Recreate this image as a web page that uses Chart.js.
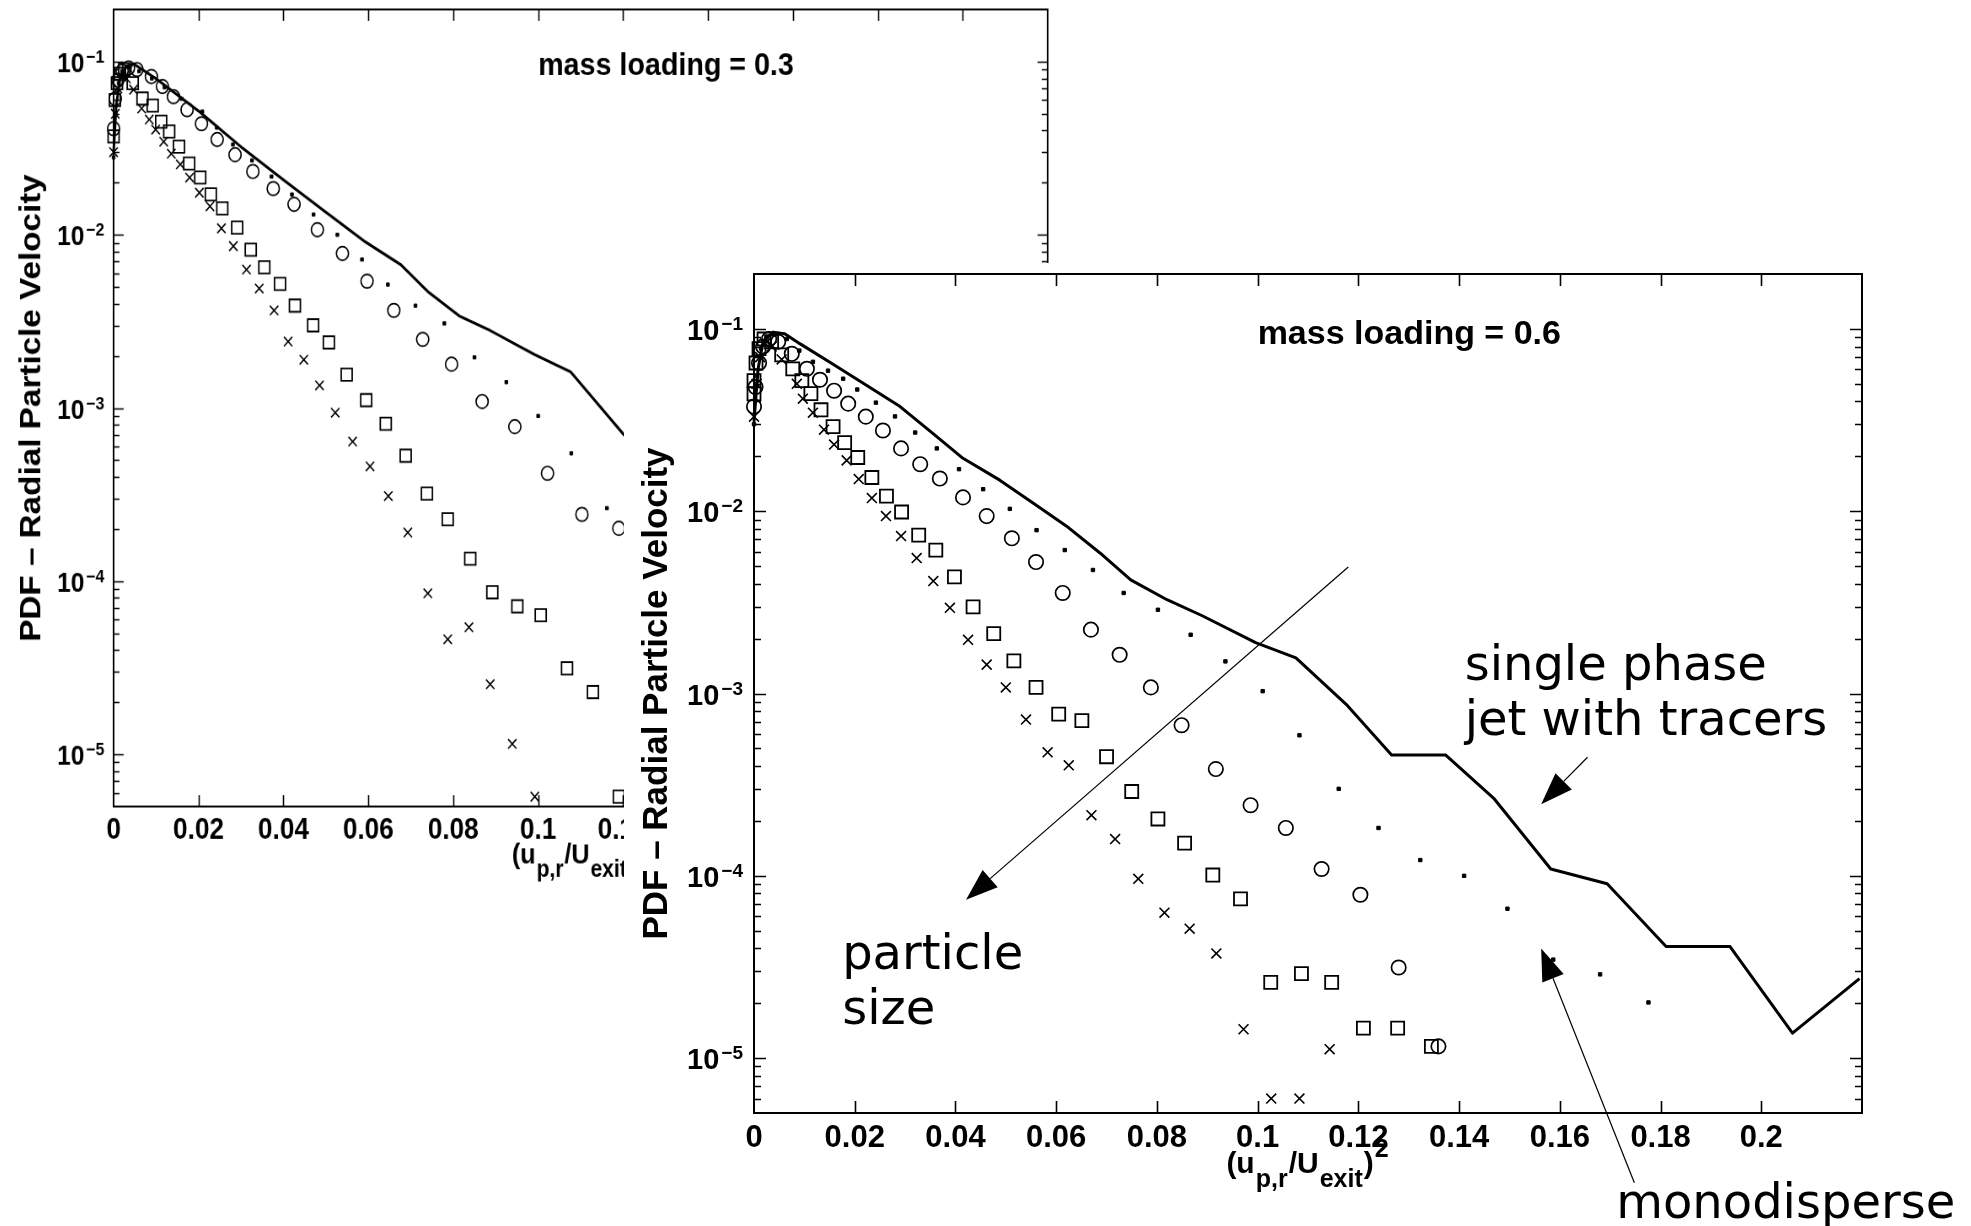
<!DOCTYPE html>
<html lang="en">
<head>
<meta charset="utf-8">
<title>PDF – Radial Particle Velocity</title>
<script src="https://cdn.jsdelivr.net/npm/chart.js@4.4.1/dist/chart.umd.min.js"></script>
<style>
  html, body { margin: 0; padding: 0; background: #fff; }
  body { width: 1971px; height: 1226px; position: relative; overflow: hidden; }
  .painel { position: absolute; width: 1347px; height: 963px; }
  /* a figura de 0.3 fica atrás, achatada na horizontal */
  #painel03 { left: 4.4px; top: -1px; transform: scale(0.843, 0.95); transform-origin: 0 0; }
  #painel06 { left: 624px; top: 263px; background: #fff; }
</style>
</head>
<body>
<div class="painel" id="painel03"><canvas id="grafico03" width="1347" height="963"></canvas></div>
<div class="painel" id="painel06"><canvas id="grafico06" width="1347" height="963"></canvas></div>
<script>
// --- DADOS: carga mássica 0.3 ---
const ml03TracadorX = [0, 0.0006, 0.0015, 0.003, 0.0047, 0.0099, 0.0204, 0.0304, 0.0404, 0.0498, 0.0593, 0.0677, 0.074, 0.0814, 0.0887, 0.0992, 0.1076, 0.12, 0.13];
const ml03TracadorY = [0.03, 0.055, 0.08, 0.094, 0.097, 0.08, 0.051, 0.0316, 0.0204, 0.0136, 0.0091, 0.0067, 0.0047, 0.0034, 0.0028, 0.00203, 0.00162, 0.00071, 0.0004];

const ml03MonoX = [0, 0.0005, 0.0012, 0.002, 0.0035, 0.006, 0.009, 0.012, 0.016, 0.0209, 0.0243, 0.0281, 0.0326, 0.0372, 0.042, 0.0471, 0.0527, 0.0585, 0.0646, 0.0711, 0.0779, 0.085, 0.0925, 0.1, 0.1078, 0.1162];
const ml03MonoY = [0.028, 0.05, 0.075, 0.088, 0.093, 0.088, 0.08, 0.071, 0.061, 0.0514, 0.0416, 0.0332, 0.0269, 0.0217, 0.0171, 0.0131, 0.01, 0.0072, 0.00516, 0.0039, 0.00308, 0.00196, 0.00141, 0.0009, 0.000547, 0.000264];

const ml03CirculoX = [0, 0.0004, 0.001, 0.002, 0.0035, 0.0055, 0.0089, 0.0115, 0.0141, 0.0173, 0.0207, 0.0244, 0.0286, 0.0328, 0.0376, 0.0425, 0.048, 0.0539, 0.0597, 0.066, 0.0728, 0.0796, 0.0868, 0.0945, 0.1022, 0.1103, 0.119];
const ml03CirculoY = [0.041, 0.061, 0.078, 0.088, 0.092, 0.09, 0.082, 0.0718, 0.0628, 0.0528, 0.0438, 0.0355, 0.029, 0.0232, 0.0185, 0.015, 0.0107, 0.0078, 0.0054, 0.00366, 0.00249, 0.00179, 0.00109, 0.00078, 0.00042, 0.000243, 0.000202];

const ml03QuadradoX = [0, 0.0003, 0.0008, 0.0015, 0.0025, 0.0045, 0.0068, 0.0092, 0.0112, 0.0131, 0.0154, 0.0178, 0.0204, 0.0229, 0.0256, 0.0291, 0.0323, 0.0355, 0.0392, 0.0427, 0.047, 0.0507, 0.0549, 0.0595, 0.0641, 0.0688, 0.0738, 0.0787, 0.084, 0.0892, 0.0951, 0.1006, 0.1068, 0.1129, 0.119];
const ml03QuadradoY = [0.037, 0.06, 0.075, 0.085, 0.09, 0.075, 0.0612, 0.0557, 0.045, 0.0395, 0.0323, 0.0258, 0.0214, 0.0171, 0.0142, 0.011, 0.0082, 0.0065, 0.0052, 0.0039, 0.003, 0.00239, 0.00156, 0.00111, 0.00081, 0.00053, 0.00032, 0.000228, 0.000135, 0.0000863, 0.0000716, 0.0000636, 0.0000314, 0.0000229, 0.0000057];

const ml03XisX = [0, 0.0004, 0.001, 0.002, 0.003, 0.0047, 0.0066, 0.0084, 0.0099, 0.0118, 0.0136, 0.0157, 0.0179, 0.0202, 0.0227, 0.0254, 0.0282, 0.0313, 0.0343, 0.0378, 0.0411, 0.0448, 0.0485, 0.0522, 0.0563, 0.0604, 0.0647, 0.0693, 0.074, 0.0787, 0.0837, 0.0887, 0.0939, 0.0992];
const ml03XisY = [0.03, 0.05, 0.07, 0.082, 0.08, 0.0689, 0.0536, 0.0463, 0.0405, 0.0345, 0.0294, 0.0255, 0.0214, 0.0175, 0.0146, 0.0109, 0.0086, 0.0063, 0.0049, 0.00366, 0.00242, 0.0019, 0.00135, 0.00094, 0.00064, 0.00046, 0.00031, 0.000191, 0.0000851, 0.0000462, 0.0000542, 0.0000254, 0.0000115, 0.0000057];

// --- DADOS: carga mássica 0.6 ---
const ml06TracadorX = [0, 0.0008, 0.0018, 0.0038, 0.0061, 0.0091, 0.0157, 0.0224, 0.029, 0.0355, 0.0415, 0.0488, 0.0554, 0.062, 0.0687, 0.0748, 0.082, 0.089, 0.0996, 0.1076, 0.1178, 0.1266, 0.1373, 0.147, 0.1582, 0.1694, 0.1811, 0.1938, 0.2062, 0.2195];
const ml06TracadorY = [0.031, 0.06, 0.085, 0.096, 0.094, 0.083, 0.064, 0.0489, 0.0375, 0.0267, 0.0195, 0.0148, 0.0111, 0.0083, 0.0059, 0.0042, 0.00327, 0.00267, 0.0019, 0.00157, 0.00086, 0.00046, 0.00046, 0.000264, 0.000109, 0.0000904, 0.0000409, 0.0000409, 0.0000137, 0.0000273];

const ml06MonoX = [0, 0.0006, 0.0014, 0.0025, 0.004, 0.0065, 0.009, 0.0117, 0.0147, 0.0177, 0.0205, 0.0242, 0.028, 0.032, 0.0363, 0.0407, 0.0455, 0.0508, 0.0561, 0.0617, 0.0673, 0.0734, 0.0802, 0.0867, 0.0936, 0.101, 0.1083, 0.1161, 0.124, 0.1323, 0.141, 0.1496, 0.1587, 0.168, 0.1776];
const ml06MonoY = [0.03, 0.055, 0.078, 0.09, 0.093, 0.088, 0.076, 0.066, 0.059, 0.0533, 0.0465, 0.0394, 0.0331, 0.027, 0.0221, 0.017, 0.0132, 0.0103, 0.00787, 0.00612, 0.00476, 0.00356, 0.00288, 0.0021, 0.0015, 0.00103, 0.00059, 0.0003, 0.000183, 0.000122, 0.0001, 0.000066, 0.0000347, 0.0000288, 0.0000202];

const ml06CirculoX = [0, 0.0003, 0.001, 0.0018, 0.003, 0.0048, 0.0075, 0.0105, 0.0131, 0.0159, 0.0187, 0.0222, 0.0256, 0.0292, 0.033, 0.0369, 0.0415, 0.0462, 0.0512, 0.056, 0.0613, 0.0669, 0.0726, 0.0788, 0.0849, 0.0917, 0.0986, 0.1056, 0.1127, 0.1204, 0.128, 0.1359];
const ml06CirculoY = [0.0375, 0.048, 0.065, 0.08, 0.088, 0.085, 0.073, 0.0604, 0.0526, 0.0458, 0.0389, 0.033, 0.0277, 0.0221, 0.0181, 0.0151, 0.0119, 0.0094, 0.0071, 0.00526, 0.00356, 0.00224, 0.00163, 0.00108, 0.00067, 0.000385, 0.000244, 0.000183, 0.000109, 0.0000787, 0.0000314, 0.0000116];

const ml06QuadradoX = [0, 0, 0.0004, 0.001, 0.002, 0.0035, 0.0055, 0.0077, 0.0095, 0.0113, 0.0133, 0.0157, 0.018, 0.0206, 0.0234, 0.0263, 0.0293, 0.0327, 0.0361, 0.0398, 0.0435, 0.0476, 0.0516, 0.056, 0.0605, 0.0651, 0.07, 0.075, 0.0802, 0.0855, 0.0911, 0.0966, 0.1026, 0.1087, 0.1147, 0.121, 0.1278, 0.1345];
const ml06QuadradoY = [0.044, 0.052, 0.065, 0.078, 0.088, 0.085, 0.072, 0.0604, 0.052, 0.0441, 0.036, 0.0291, 0.0238, 0.0197, 0.0153, 0.0121, 0.0099, 0.0074, 0.00612, 0.00436, 0.00299, 0.00213, 0.00151, 0.00108, 0.00077, 0.00071, 0.00045, 0.00029, 0.000205, 0.000151, 0.000101, 0.0000748, 0.000026, 0.0000291, 0.000026, 0.0000146, 0.0000146, 0.0000116];

const ml06XisX = [0, 0.0005, 0.0012, 0.0022, 0.0035, 0.0055, 0.0085, 0.0097, 0.0117, 0.0139, 0.0159, 0.0184, 0.0208, 0.0234, 0.0262, 0.0292, 0.0323, 0.0356, 0.0389, 0.0425, 0.0462, 0.05, 0.054, 0.0583, 0.0625, 0.067, 0.0717, 0.0763, 0.0815, 0.0865, 0.0918, 0.0972, 0.1027, 0.1083, 0.1143];
const ml06XisY = [0.033, 0.05, 0.07, 0.083, 0.08, 0.068, 0.05, 0.0414, 0.0347, 0.028, 0.0232, 0.019, 0.015, 0.0118, 0.0094, 0.0073, 0.00553, 0.00414, 0.00295, 0.00197, 0.00144, 0.00108, 0.00072, 0.000476, 0.000404, 0.000215, 0.000159, 0.0000963, 0.0000628, 0.0000513, 0.0000375, 0.0000144, 0.000006, 0.000006, 0.0000112];

// eixos (iguais nas duas figuras)
const eixoXMin = 0, eixoXMax = 0.22, eixoXPasso = 0.02;
const eixoYMin = 5e-6, eixoYMax = 0.2;

// anotações da figura de 0.6, em coordenadas de dados
const notasMl06 = [
  { linhas: ['particle', 'size'], em: [0.0175, 3.1e-5] },
  { linhas: ['single phase', 'jet with tracers'], em: [0.1411, 1.18e-3] },
  { linhas: ['monodisperse'], em: [0.1712, 1.32e-6] }
];
const setasMl06 = [
  { de: [0.118, 4.94e-3], ate: [0.0421, 7.4e-5] },
  { de: [0.1655, 4.47e-4], ate: [0.1563, 2.47e-4] },
  { de: [0.1748, 2.07e-6], ate: [0.1563, 3.99e-5] }
];

const FONTE_EIXOS = '"Liberation Sans", Arial, Helvetica, sans-serif';
const FONTE_NOTAS = '"DejaVu Sans", "Noto Sans", sans-serif';

const ESTILOS = {
  tracador: { showLine: true, pointRadius: 0, borderColor: '#000', borderWidth: 3, tension: 0, borderJoinStyle: 'round' },
  mono: { pointStyle: 'rect', pointRadius: 2.4, pointBorderWidth: 1, pointBorderColor: '#000', pointBackgroundColor: '#000' },
  circulo: { pointStyle: 'circle', pointRadius: 7.2, pointBorderWidth: 1.7, pointBorderColor: '#000', pointBackgroundColor: 'rgba(0,0,0,0)' },
  quadrado: { pointStyle: 'rect', pointRadius: 9.2, pointBorderWidth: 1.8, pointBorderColor: '#000', pointBackgroundColor: 'rgba(0,0,0,0)' },
  xis: { pointStyle: 'crossRot', pointRadius: 7, pointBorderWidth: 1.6, pointBorderColor: '#000' }
};

// partes do título do eixo x: (u_{p,r}/U_{exit})^2
const TITULO_X = [
  { t: '(u', tam: 30, dy: 0 },
  { t: 'p,r', tam: 25, dy: 14 },
  { t: '/U', tam: 30, dy: 0 },
  { t: 'exit', tam: 25, dy: 14 },
  { t: ')', tam: 30, dy: 0 },
  { t: '2', tam: 25, dy: -16 }
];

function desenharSeta(ctx, x0, y0, x1, y1) {
  const ang = Math.atan2(y1 - y0, x1 - x0);
  const comp = 32, meia = 11.5;
  const bx = x1 - comp * Math.cos(ang);
  const by = y1 - comp * Math.sin(ang);
  ctx.beginPath();
  ctx.moveTo(x0, y0);
  ctx.lineTo(bx, by);
  ctx.stroke();
  ctx.beginPath();
  ctx.moveTo(x1, y1);
  ctx.lineTo(bx + meia * Math.sin(ang), by - meia * Math.cos(ang));
  ctx.lineTo(bx - meia * Math.sin(ang), by + meia * Math.cos(ang));
  ctx.closePath();
  ctx.fill();
}

/**
 * Moldura fechada com marcas para dentro, rótulos 10^n, título do eixo x com índices e anotações.
 */
const molduraPlugin = {
  id: 'moldura',
  afterDraw(chart, args, opts) {
    const { ctx, chartArea: a, scales: { x, y } } = chart;
    ctx.save();
    ctx.strokeStyle = '#000';
    ctx.fillStyle = '#000';

    ctx.lineWidth = 2;
    ctx.strokeRect(a.left, a.top, a.right - a.left, a.bottom - a.top);

    ctx.lineWidth = 1.6;
    ctx.beginPath();
    x.ticks.forEach(t => {
      if (t.value <= x.min + 1e-9 || t.value >= x.max - 1e-9) return;
      const px = Math.round(x.getPixelForValue(t.value)) + 0.5;
      ctx.moveTo(px, a.bottom); ctx.lineTo(px, a.bottom - 12);
      ctx.moveTo(px, a.top); ctx.lineTo(px, a.top + 12);
    });
    const eMin = Math.floor(Math.log10(y.min));
    const eMax = Math.ceil(Math.log10(y.max));
    for (let e = eMin; e < eMax; e++) {
      for (let m = 1; m < 10; m++) {
        const v = m * Math.pow(10, e);
        if (v <= y.min * 1.0001 || v >= y.max * 0.9999) continue;
        const py = Math.round(y.getPixelForValue(v)) + 0.5;
        const len = m === 1 ? 12 : 7;
        ctx.moveTo(a.left, py); ctx.lineTo(a.left + len, py);
        ctx.moveTo(a.right, py); ctx.lineTo(a.right - len, py);
      }
    }
    ctx.stroke();

    // rótulos das décadas: "10" com expoente
    ctx.textBaseline = 'alphabetic';
    for (let e = Math.ceil(Math.log10(y.min)); e <= Math.floor(Math.log10(y.max)); e++) {
      const py = y.getPixelForValue(Math.pow(10, e));
      const expoente = String(e).replace('-', '\u2212');
      ctx.font = 'bold 19px ' + FONTE_EIXOS;
      const we = ctx.measureText(expoente).width;
      const xd = a.left - 11;
      ctx.textAlign = 'right';
      ctx.fillText(expoente, xd, py + 1);
      ctx.font = 'bold 29px ' + FONTE_EIXOS;
      ctx.fillText('10', xd - we - 2, py + 11);
    }

    // título do eixo x
    ctx.textAlign = 'left';
    let largura = 0;
    TITULO_X.forEach(p => {
      ctx.font = 'bold ' + p.tam + 'px ' + FONTE_EIXOS;
      largura += ctx.measureText(p.t).width + 1;
    });
    let cx = (a.left + a.right) / 2 - largura / 2;
    const base = a.bottom + 60;
    TITULO_X.forEach(p => {
      ctx.font = 'bold ' + p.tam + 'px ' + FONTE_EIXOS;
      ctx.fillText(p.t, cx, base + p.dy);
      cx += ctx.measureText(p.t).width + 1;
    });

    // rótulo da carga mássica
    if (opts.rotulo) {
      ctx.font = 'bold 34px ' + FONTE_EIXOS;
      ctx.fillText(opts.rotulo.texto, x.getPixelForValue(opts.rotulo.em[0]), y.getPixelForValue(opts.rotulo.em[1]));
    }

    // setas e textos
    ctx.lineWidth = 1.2;
    (opts.setas || []).forEach(s => {
      desenharSeta(ctx,
        x.getPixelForValue(s.de[0]), y.getPixelForValue(s.de[1]),
        x.getPixelForValue(s.ate[0]), y.getPixelForValue(s.ate[1]));
    });
    ctx.font = '48px ' + FONTE_NOTAS;
    (opts.notas || []).forEach(n => {
      const nx = x.getPixelForValue(n.em[0]);
      const ny = y.getPixelForValue(n.em[1]);
      n.linhas.forEach((linha, i) => ctx.fillText(linha, nx, ny + i * 55));
    });
    ctx.restore();
  }
};

function montarSeries(lista) {
  return lista.map(s => Object.assign({
    label: s.nome,
    data: s.xs.map((x, i) => ({ x, y: s.ys[i] })),
    clip: false
  }, ESTILOS[s.tipo]));
}

/**
 * Monta uma figura PDF x (u/U)^2 com eixo y logarítmico.
 */
function montarGrafico(canvasId, series, extras) {
  const ctx = document.getElementById(canvasId).getContext('2d');
  return new Chart(ctx, {
    type: 'scatter',
    data: { datasets: montarSeries(series) },
    options: {
      responsive: false,
      animation: false,
      devicePixelRatio: 1,
      events: [],
      layout: { padding: { left: 0, top: 9, right: 109, bottom: 0 } },
      plugins: {
        legend: { display: false },
        tooltip: { enabled: false },
        moldura: extras
      },
      scales: {
        x: {
          type: 'linear',
          min: eixoXMin,
          max: eixoXMax,
          grid: { display: false, drawTicks: false },
          border: { display: false },
          ticks: {
            stepSize: eixoXPasso,
            autoSkip: false,
            maxRotation: 0,
            padding: 7,
            color: '#000',
            font: { family: FONTE_EIXOS, size: 31, weight: 'bold' },
            callback: v => (v > eixoXMax - eixoXPasso / 2 ? null : String(Math.round(v * 100) / 100))
          },
          afterFit: s => { s.height = 113; }
        },
        y: {
          type: 'logarithmic',
          min: eixoYMin,
          max: eixoYMax,
          grid: { display: false, drawTicks: false },
          border: { display: false },
          ticks: { display: false },
          title: {
            display: true,
            text: 'PDF – Radial Particle Velocity',
            color: '#000',
            font: { family: FONTE_EIXOS, size: 35, weight: 'bold' },
            padding: { top: 12, bottom: 0 }
          },
          afterFit: s => { s.width = 130; }
        }
      }
    },
    plugins: [molduraPlugin]
  });
}

// --- INICIALIZAÇÃO ---
montarGrafico('grafico03', [
  { nome: 'single phase jet with tracers', tipo: 'tracador', xs: ml03TracadorX, ys: ml03TracadorY },
  { nome: 'monodisperse', tipo: 'mono', xs: ml03MonoX, ys: ml03MonoY },
  { nome: 'circles', tipo: 'circulo', xs: ml03CirculoX, ys: ml03CirculoY },
  { nome: 'squares', tipo: 'quadrado', xs: ml03QuadradoX, ys: ml03QuadradoY },
  { nome: 'crosses', tipo: 'xis', xs: ml03XisX, ys: ml03XisY }
], { rotulo: { texto: 'mass loading = 0.3', em: [0.1, 0.084] } });

montarGrafico('grafico06', [
  { nome: 'single phase jet with tracers', tipo: 'tracador', xs: ml06TracadorX, ys: ml06TracadorY },
  { nome: 'monodisperse', tipo: 'mono', xs: ml06MonoX, ys: ml06MonoY },
  { nome: 'circles', tipo: 'circulo', xs: ml06CirculoX, ys: ml06CirculoY },
  { nome: 'squares', tipo: 'quadrado', xs: ml06QuadradoX, ys: ml06QuadradoY },
  { nome: 'crosses', tipo: 'xis', xs: ml06XisX, ys: ml06XisY }
], {
  rotulo: { texto: 'mass loading = 0.6', em: [0.1, 0.0828] },
  setas: setasMl06,
  notas: notasMl06
});
</script>
</body>
</html>
